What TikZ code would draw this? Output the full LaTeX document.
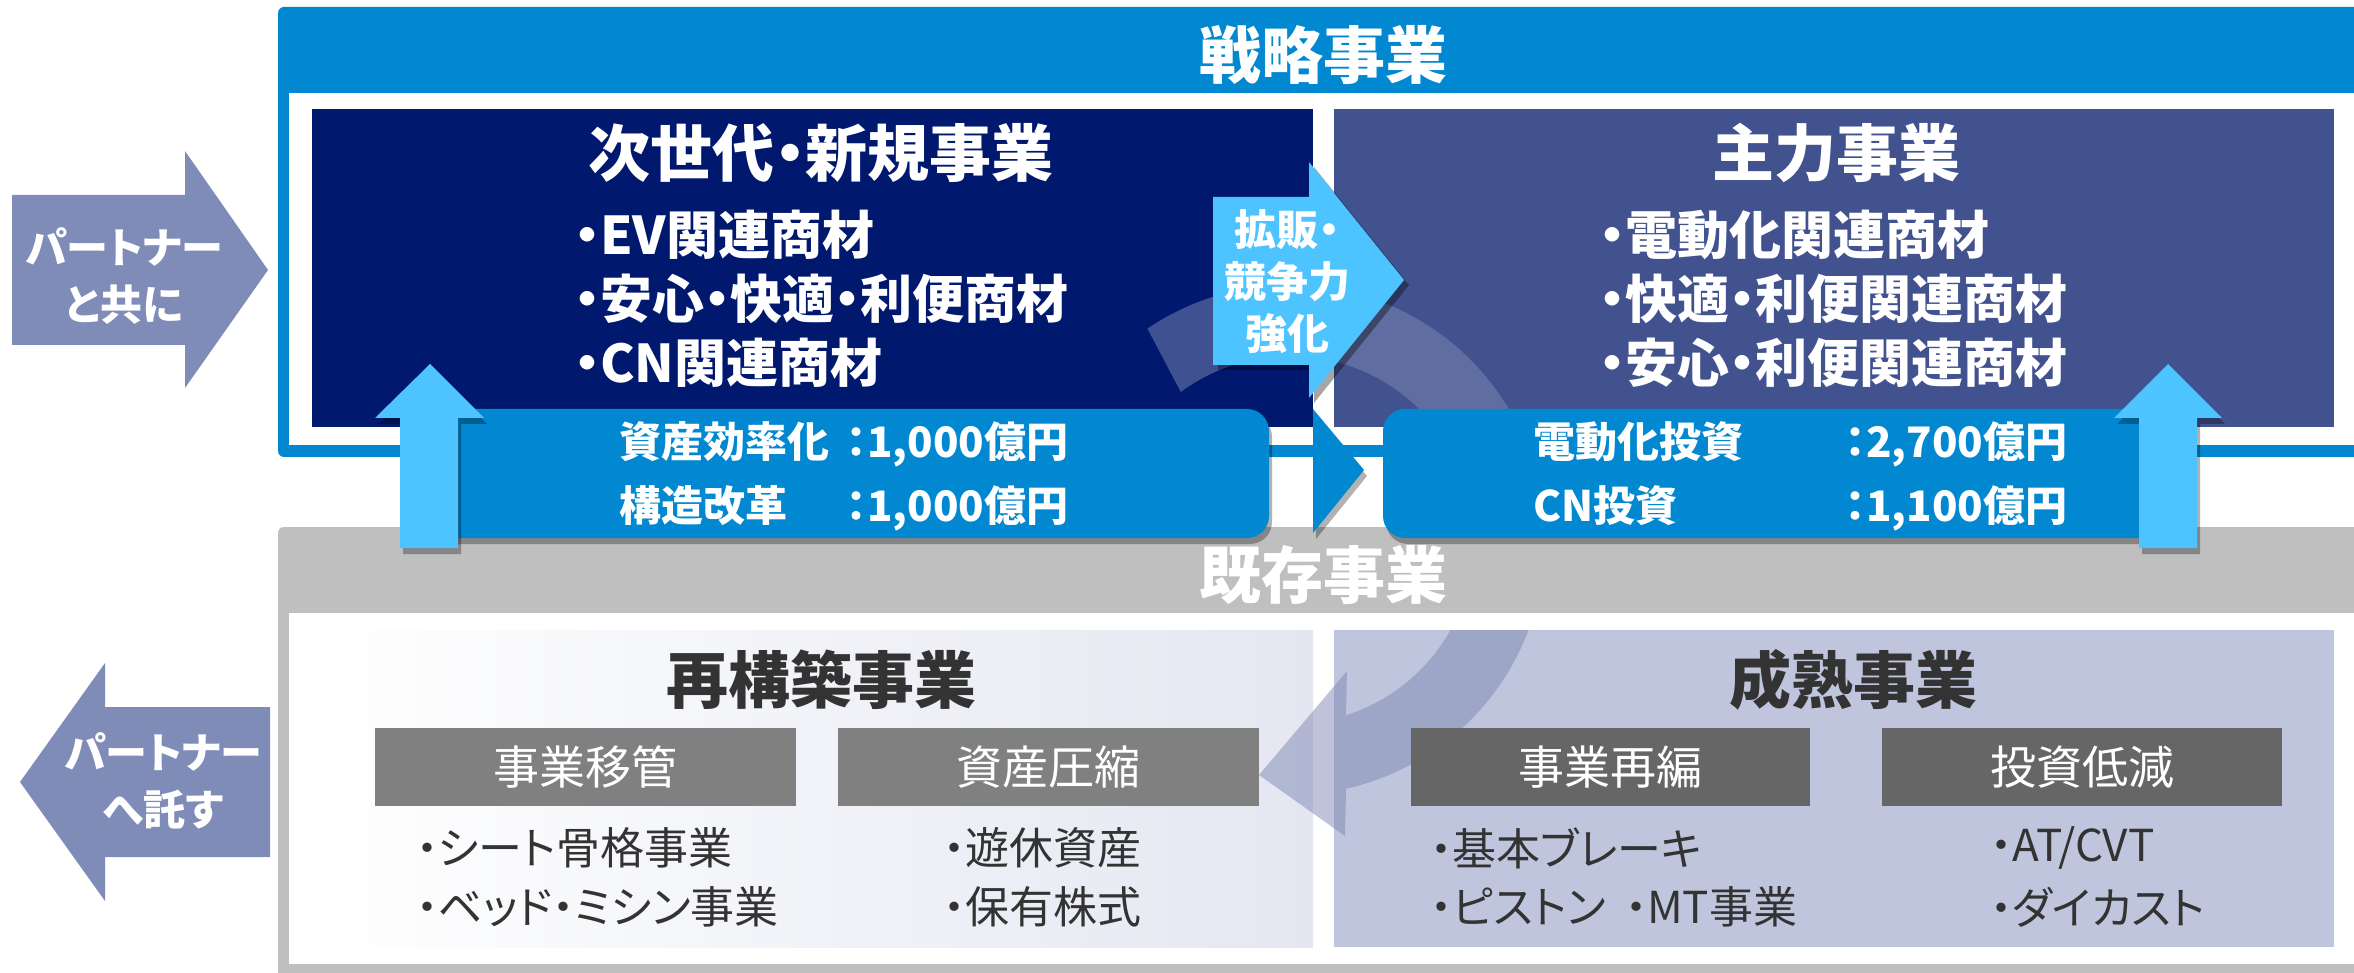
\documentclass[tikz,border=0pt]{standalone}
\usepackage{fontspec}
\setmainfont{Noto Sans CJK JP}[RawFeature={+palt}]
\usetikzlibrary{shadows,calc}
\definecolor{frameblue}{HTML}{0288D1}
\definecolor{lightblue}{HTML}{4DC3FF}
\definecolor{navy}{HTML}{00196E}
\definecolor{slate}{HTML}{41528F}
\definecolor{partner}{HTML}{7F8CB7}
\definecolor{bandgray}{HTML}{BFBFBF}
\definecolor{paleblue}{HTML}{E4E7F1}
\definecolor{greyblue}{HTML}{BFC5DC}
\definecolor{labelA}{HTML}{808080}
\definecolor{labelB}{HTML}{666666}
\definecolor{darktext}{HTML}{333333}
\definecolor{arcblue}{HTML}{7F89B4}
\tikzset{
  shad/.style={drop shadow={shadow xshift=3pt, shadow yshift=-6pt, fill=black, opacity=.3}},
  titleW/.style={font=\bfseries\fontsize{62}{70}\selectfont, text=white, inner sep=0pt},
  titleD/.style={font=\bfseries\fontsize{62}{70}\selectfont, text=darktext, inner sep=0pt},
  itemW/.style={font=\bfseries\fontsize{52}{60}\selectfont, text=white, inner sep=0pt, anchor=west},
  barW/.style={font=\bfseries\fontsize{42}{50}\selectfont, text=white, inner sep=0pt, anchor=west},
  arrowT/.style={font=\bfseries\fontsize{42}{57}\selectfont, text=white, inner sep=0pt, align=center},
  labelT/.style={font=\fontsize{46}{54}\selectfont, text=white, inner sep=0pt},
  itemD/.style={font=\fontsize{44}{52}\selectfont, text=darktext, inner sep=0pt, anchor=west},
}
\begin{document}
\begin{tikzpicture}[x=1pt,y=-1pt]
\clip (0,0) rectangle (2354,973);
\fill[white] (0,0) rectangle (2354,973);
% strategic frame
\fill[frameblue, rounded corners=6pt] (278,7) rectangle (2380,457);
\fill[white] (289,93) rectangle (2380,445);
% existing frame
\fill[bandgray, rounded corners=6pt] (278,527) rectangle (2380,990);
\fill[white] (289,613) rectangle (2380,964);
% upper boxes
\fill[navy] (312,109) rectangle (1313,427);
\fill[slate] (1334,109) rectangle (2334,427);
% lower boxes
\fill[left color=white, right color=paleblue] (312,630) rectangle (1313,947);
\fill[greyblue] (1334,630) rectangle (2334,947);
% curved arrow
\begin{scope}
\clip (312,109) rectangle (2334,427) (312,630) rectangle (2334,947);
\fill[arcblue, opacity=0.5] ($(1290,540)+(-124:255)$) arc[start angle=-124, end angle=77.3, radius=255]
  -- (1345,836) -- (1259,775) -- (1347,671) -- ($(1290,540)+(72.3:184)$)
  arc[start angle=72.3, end angle=-126.4, radius=184] -- cycle;
\end{scope}
% label boxes
\fill[labelA] (375,728) rectangle (796,806);
\fill[labelA] (838,728) rectangle (1259,806);
\fill[labelB] (1411,728) rectangle (1810,806);
\fill[labelB] (1882,728) rectangle (2282,806);
% investment bars
\fill[frameblue, rounded corners=22pt, shad] (430,409) rectangle (1269,538);
\fill[frameblue, rounded corners=22pt, shad] (1383,409) rectangle (2165,538);
\fill[frameblue, shad] (1313,409) -- (1364,470) -- (1313,533) -- cycle;
% up arrows
\fill[lightblue, shad] (400,548) -- (400,418) -- (375,418) -- (430,364) -- (484,418) -- (458,418) -- (458,548) -- cycle;
\fill[lightblue, shad] (2139,548) -- (2139,418) -- (2114,418) -- (2168,364) -- (2222,418) -- (2197,418) -- (2197,548) -- cycle;
% expansion arrow
\fill[lightblue, drop shadow={shadow xshift=5pt, shadow yshift=-5pt, fill=black, opacity=.35}] (1213,197) -- (1309,197) -- (1309,162) -- (1404,280) -- (1309,398) -- (1309,365) -- (1213,365) -- cycle;
% partner arrows
\fill[partner] (12,195) -- (185,195) -- (185,151) -- (268,270) -- (185,388) -- (185,345) -- (12,345) -- cycle;
\fill[partner] (20,782) -- (105,663) -- (105,707) -- (270,707) -- (270,857) -- (105,857) -- (105,901) -- cycle;
% texts
\node[titleW] (senryaku) at (1323,55) {戦略事業};
\node[titleW] (kizon) at (1323,575) {既存事業};
\node[titleW] (jisedai) at (821,153) {次世代・新規事業};
\node[titleW] (shuryoku) at (1836,153) {主力事業};
\node[titleD] (saikouchiku) at (821,680) {再構築事業};
\node[titleD] (seijuku) at (1853,680) {成熟事業};
\node[itemW] (l1) at (574,235) {・EV関連商材};
\node[itemW] (l2) at (574,299) {・安心・快適・利便商材};
\node[itemW] (l3) at (574,363) {・CN関連商材};
\node[itemW] (r1) at (1599,235) {・電動化関連商材};
\node[itemW] (r2) at (1599,299) {・快適・利便関連商材};
\node[itemW] (r3) at (1599,363) {・安心・利便関連商材};
\node[barW] (b1) at (619,444) {\makebox[227pt][l]{資産効率化}：1,000億円};
\node[barW] (b2) at (619,508) {\makebox[227pt][l]{構造改革}：1,000億円};
\node[barW] (b3) at (1533,444) {\makebox[312pt][l]{電動化投資}：2,700億円};
\node[barW] (b4) at (1533,508) {\makebox[312pt][l]{CN投資}：1,100億円};
\node[arrowT, font=\bfseries\fontsize{42}{52}\selectfont] (kakuhan) at (1287,282) {拡販・\\競争力\\強化};
\node[arrowT] (pw) at (124,276) {パートナー\\と共に};
\node[arrowT] (pt) at (163,781) {パートナー\\へ託す};
\node[labelT] (t1) at (585.5,767) {事業移管};
\node[labelT] (t2) at (1048.5,767) {資産圧縮};
\node[labelT] (t3) at (1610.5,767) {事業再編};
\node[labelT] (t4) at (2082,767) {投資低減};
\node[itemD] (d1) at (416,848) {・シート骨格事業};
\node[itemD] (d2) at (416,907) {・ベッド・ミシン事業};
\node[itemD] (d3) at (943,848) {・遊休資産};
\node[itemD] (d4) at (943,907) {・保有株式};
\node[itemD] (d5) at (1430,848) {・基本ブレーキ};
\node[itemD] (d6) at (1430,907) {\makebox[195pt][l]{・ピストン}・MT事業};
\node[itemD] (d7) at (1990,848) {・AT/CVT};
\node[itemD] (d8) at (1990,907) {・ダイカスト};
\end{tikzpicture}
\end{document}
